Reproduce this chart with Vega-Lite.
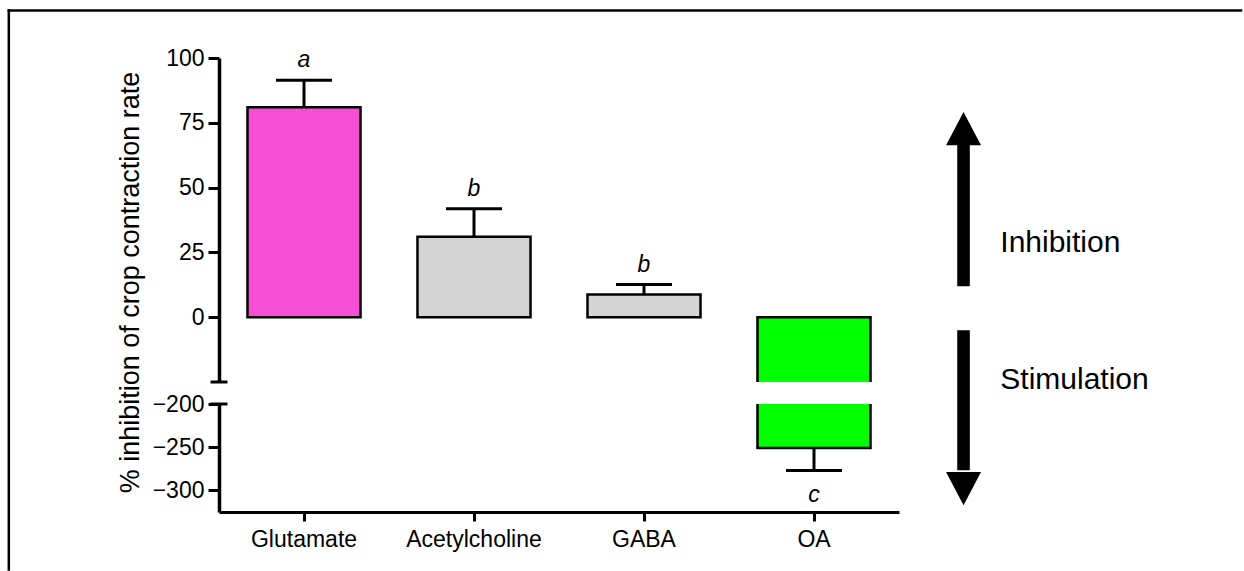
{
  "$schema": "https://vega.github.io/schema/vega-lite/v6.json",
  "background": "white",
  "padding": {"left": 7, "top": 8, "right": 0, "bottom": 0},
  "config": {
    "view": {"stroke": null},
    "axis": {
      "grid": false,
      "domainColor": "black",
      "tickColor": "black",
      "labelColor": "black",
      "titleColor": "black",
      "labelFont": "Liberation Sans",
      "titleFont": "Liberation Sans",
      "labelFontSize": 23,
      "domainWidth": 3.5,
      "tickWidth": 3,
      "tickSize": 11,
      "labelPadding": 4
    }
  },
  "datasets": {
    "compounds": [
      {"compound": "Glutamate", "value": 81, "err": 91.4, "sig": "a"},
      {"compound": "Acetylcholine", "value": 31, "err": 41.8, "sig": "b"},
      {"compound": "GABA", "value": 8.8, "err": 12.6, "sig": "b"},
      {"compound": "OA", "value": -251, "err": -277, "sig": "c"}
    ],
    "arrows": [
      {"label": "Inhibition", "direction": "up"},
      {"label": "Stimulation", "direction": "down"}
    ],
    "frame": [{"element": "frame"}]
  },
  "data": {"name": "compounds"},
  "spacing": 22,
  "bounds": "flush",
  "resolve": {"scale": {"x": "independent", "y": "independent"}},
  "vconcat": [
    {
      "width": 680,
      "height": 324,
      "resolve": {"scale": {"x": "independent"}},
      "layer": [
        {
          "encoding": {
            "x": {"field": "compound", "type": "nominal", "sort": null,
                  "scale": {"domain": ["Glutamate", "Acetylcholine", "GABA", "OA"], "paddingInner": 0.335, "paddingOuter": 0.1675},
                  "axis": null}
          },
          "layer": [
            {
              "mark": {"type": "bar", "stroke": "black", "strokeWidth": 2.5, "clip": true},
              "encoding": {
                "y": {"field": "value", "type": "quantitative",
                      "scale": {"domain": [-25, 100], "nice": false, "zero": false},
                      "axis": {"values": [0, 25, 50, 75, 100],
                               "title": "% inhibition of crop contraction rate",
                               "titleFontSize": 27, "titleFontWeight": "normal",
                               "titleAngle": -90, "titleX": -81, "titleY": 224,
                               "titleAlign": "center", "titleBaseline": "alphabetic"}},
                "y2": {"datum": 0},
                "color": {"field": "compound", "type": "nominal",
                          "scale": {"domain": ["Glutamate", "Acetylcholine", "GABA", "OA"], "range": ["#F64FD6", "#D4D4D4", "#D4D4D4", "#00FF00"]},
                          "legend": null}
              }
            },
            {
              "mark": {"type": "rule", "strokeWidth": 3, "color": "black", "clip": true},
              "encoding": {
                "y": {"field": "value", "type": "quantitative", "scale": {"domain": [-25, 100], "nice": false, "zero": false}},
                "y2": {"field": "err"}
              }
            },
            {
              "mark": {"type": "tick", "orient": "horizontal", "size": 56, "thickness": 3, "color": "black", "opacity": 1, "clip": true},
              "encoding": {
                "y": {"field": "err", "type": "quantitative", "scale": {"domain": [-25, 100], "nice": false, "zero": false}}
              }
            },
            {
              "transform": [{"filter": "datum.value > 0"}],
              "mark": {"type": "text", "font": "Liberation Sans", "fontSize": 23, "fontStyle": "italic", "baseline": "alphabetic", "dy": -13, "color": "black"},
              "encoding": {
                "y": {"field": "err", "type": "quantitative", "scale": {"domain": [-25, 100], "nice": false, "zero": false}},
                "text": {"field": "sig"}
              }
            },
            {
              "mark": {"type": "rule", "strokeWidth": 3, "color": "black"},
              "encoding": {
                "y": {"datum": 0, "type": "quantitative", "scale": {"domain": [-25, 100], "nice": false, "zero": false}}
              }
            }
          ]
        },
        {
          "layer": [
            {
              "data": {"name": "arrows"},
              "transform": [{"filter": "datum.direction == 'up'"}],
              "mark": {"type": "rule", "strokeWidth": 12.6, "color": "black", "strokeCap": "butt"},
              "encoding": {
                "x": {"datum": 1.0949, "type": "quantitative", "scale": {"domain": [0, 1], "nice": false, "zero": false}, "axis": null},
                "y": {"datum": 11.9, "type": "quantitative", "scale": {"domain": [-25, 100], "nice": false, "zero": false}},
                "y2": {"datum": 67}
              }
            },
            {
              "data": {"name": "arrows"},
              "transform": [{"filter": "datum.direction == 'down'"}],
              "mark": {"type": "rule", "strokeWidth": 12.6, "color": "black", "strokeCap": "butt"},
              "encoding": {
                "x": {"datum": 1.0949, "type": "quantitative", "scale": {"domain": [0, 1], "nice": false, "zero": false}, "axis": null},
                "y": {"datum": -5.05, "type": "quantitative", "scale": {"domain": [-25, 100], "nice": false, "zero": false}},
                "y2": {"datum": -59}
              }
            },
            {
              "data": {"name": "arrows"},
              "transform": [{"filter": "datum.direction == 'up'"}],
              "mark": {"type": "point", "shape": "M0,-0.95L1,0.95L-1,0.95Z", "size": 1225, "filled": true, "color": "black", "opacity": 1, "strokeWidth": 0},
              "encoding": {
                "x": {"datum": 1.0949, "type": "quantitative", "scale": {"domain": [0, 1], "nice": false, "zero": false}, "axis": null},
                "y": {"datum": 72.77, "type": "quantitative", "scale": {"domain": [-25, 100], "nice": false, "zero": false}}
              }
            },
            {
              "data": {"name": "arrows"},
              "transform": [{"filter": "datum.direction == 'down'"}],
              "mark": {"type": "point", "shape": "M0,0.95L1,-0.95L-1,-0.95Z", "size": 1225, "filled": true, "color": "black", "opacity": 1, "strokeWidth": 0},
              "encoding": {
                "x": {"datum": 1.0949, "type": "quantitative", "scale": {"domain": [0, 1], "nice": false, "zero": false}, "axis": null},
                "y": {"datum": -66.17, "type": "quantitative", "scale": {"domain": [-25, 100], "nice": false, "zero": false}}
              }
            },
            {
              "data": {"name": "arrows"},
              "transform": [{"filter": "datum.direction == 'up'"}],
              "mark": {"type": "text", "align": "left", "baseline": "alphabetic", "font": "Liberation Sans", "fontSize": 30, "color": "black"},
              "encoding": {
                "x": {"datum": 1.149, "type": "quantitative", "scale": {"domain": [0, 1], "nice": false, "zero": false}, "axis": null},
                "y": {"datum": 25.15, "type": "quantitative", "scale": {"domain": [-25, 100], "nice": false, "zero": false}},
                "text": {"field": "label"}
              }
            },
            {
              "data": {"name": "arrows"},
              "transform": [{"filter": "datum.direction == 'down'"}],
              "mark": {"type": "text", "align": "left", "baseline": "alphabetic", "font": "Liberation Sans", "fontSize": 30, "color": "black"},
              "encoding": {
                "x": {"datum": 1.149, "type": "quantitative", "scale": {"domain": [0, 1], "nice": false, "zero": false}, "axis": null},
                "y": {"datum": -27.55, "type": "quantitative", "scale": {"domain": [-25, 100], "nice": false, "zero": false}},
                "text": {"field": "label"}
              }
            },
            {
              "data": {"name": "frame"},
              "mark": {"type": "rule", "strokeWidth": 2.5, "color": "black", "strokeCap": "square"},
              "encoding": {
                "x": {"datum": -0.3091, "type": "quantitative", "scale": {"domain": [0, 1], "nice": false, "zero": false}, "axis": null},
                "x2": {"datum": 1.503},
                "y": {"datum": 118.29, "type": "quantitative", "scale": {"domain": [-25, 100], "nice": false, "zero": false}}
              }
            },
            {
              "data": {"name": "frame"},
              "mark": {"type": "rule", "strokeWidth": 2.5, "color": "black", "strokeCap": "square"},
              "encoding": {
                "x": {"datum": -0.3091, "type": "quantitative", "scale": {"domain": [0, 1], "nice": false, "zero": false}, "axis": null},
                "y": {"datum": 118.29, "type": "quantitative", "scale": {"domain": [-25, 100], "nice": false, "zero": false}},
                "y2": {"datum": -97.3}
              }
            },
            {
              "data": {"name": "frame"},
              "mark": {"type": "tick", "orient": "horizontal", "size": 17, "thickness": 3, "color": "black", "opacity": 1},
              "encoding": {
                "x": {"datum": 0, "type": "quantitative", "scale": {"domain": [0, 1], "nice": false, "zero": false}, "axis": null},
                "y": {"datum": -25, "type": "quantitative", "scale": {"domain": [-25, 100], "nice": false, "zero": false}}
              }
            }
          ]
        }
      ]
    },
    {
      "width": 680,
      "height": 108,
      "resolve": {"scale": {"x": "independent"}},
      "layer": [
        {
          "encoding": {
            "x": {"field": "compound", "type": "nominal", "sort": null,
                  "scale": {"domain": ["Glutamate", "Acetylcholine", "GABA", "OA"], "paddingInner": 0.335, "paddingOuter": 0.1675},
                  "axis": {"title": null, "labelAngle": 0, "domainWidth": 3, "tickSize": 9, "labelPadding": 7, "labelFontSize": 23}}
          },
          "layer": [
            {
              "mark": {"type": "bar", "stroke": "black", "strokeWidth": 2.5, "clip": true},
              "encoding": {
                "y": {"field": "value", "type": "quantitative",
                      "scale": {"domain": [-325, -200], "nice": false, "zero": false},
                      "axis": {"values": [-200, -250, -300], "title": null}},
                "y2": {"datum": 0},
                "color": {"field": "compound", "type": "nominal",
                          "scale": {"domain": ["Glutamate", "Acetylcholine", "GABA", "OA"], "range": ["#F64FD6", "#D4D4D4", "#D4D4D4", "#00FF00"]},
                          "legend": null}
              }
            },
            {
              "mark": {"type": "rule", "strokeWidth": 3, "color": "black", "clip": true},
              "encoding": {
                "y": {"field": "value", "type": "quantitative", "scale": {"domain": [-325, -200], "nice": false, "zero": false}},
                "y2": {"field": "err"}
              }
            },
            {
              "mark": {"type": "tick", "orient": "horizontal", "size": 56, "thickness": 3, "color": "black", "opacity": 1, "clip": true},
              "encoding": {
                "y": {"field": "err", "type": "quantitative", "scale": {"domain": [-325, -200], "nice": false, "zero": false}}
              }
            },
            {
              "transform": [{"filter": "datum.value < 0"}],
              "mark": {"type": "text", "font": "Liberation Sans", "fontSize": 23, "fontStyle": "italic", "baseline": "alphabetic", "dy": 31, "color": "black"},
              "encoding": {
                "y": {"field": "err", "type": "quantitative", "scale": {"domain": [-325, -200], "nice": false, "zero": false}},
                "text": {"field": "sig"}
              }
            }
          ]
        },
        {
          "data": {"name": "frame"},
          "mark": {"type": "tick", "orient": "horizontal", "size": 17, "thickness": 3, "color": "black", "opacity": 1},
          "encoding": {
            "x": {"datum": 0, "type": "quantitative", "scale": {"domain": [0, 1], "nice": false, "zero": false}, "axis": null},
            "y": {"datum": -200, "type": "quantitative", "scale": {"domain": [-325, -200], "nice": false, "zero": false}}
          }
        }
      ]
    }
  ]
}
